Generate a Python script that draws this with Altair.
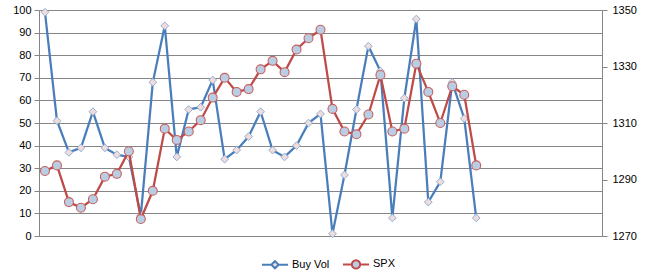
import altair as alt
import pandas as pd

# Values
sessions = list(range(1, 38))
buy_vol = [99, 51, 37, 39, 55, 39, 36, 35, 9, 68, 93, 35, 56, 57, 69,
           34, 38, 44, 55, 38, 35, 40, 50, 54, 1, 27, 56, 84, 73, 8, 61, 96,
           15, 24, 68, 52, 8]
spx = [1293, 1295, 1282, 1280, 1283, 1291, 1292, 1300, 1276, 1286, 1308,
       1304, 1307, 1311, 1319, 1326, 1321, 1322, 1329, 1332, 1328, 1336,
       1340, 1343, 1315, 1307, 1306, 1313, 1327, 1307, 1308, 1331,
       1321, 1310, 1323, 1320, 1295]
series_names = ["Buy Vol", "SPX"]
left_ticks = list(range(0, 101, 10))
right_ticks = [1270, 1290, 1310, 1330, 1350]

df = pd.DataFrame({"session": sessions, "buy": buy_vol, "spx": spx})

BLUE = "#4A7EBB"
BLUE_EDGE = "#8FB0D8"
PINK_FILL = "#F2DCDB"
RED = "#BE4B48"
RED_EDGE = "#C8605D"
LBLUE_FILL = "#B9CDE5"
GRID = "#868686"
FONT = "Liberation Sans"

x_enc = alt.X("session:Q", scale=alt.Scale(domain=[0.5, 47.5], nice=False, zero=False), axis=None)

left_axis = alt.Axis(values=left_ticks, grid=True, gridColor=GRID, domainColor=GRID,
                     tickColor=GRID, tickSize=5, labelPadding=3, title=None,
                     labelFont=FONT, labelFontSize=11, labelColor="#000000")
right_axis = alt.Axis(values=right_ticks, grid=False, orient="right", domainColor=GRID,
                      tickColor=GRID, tickSize=5, labelPadding=5, title=None, format="d",
                      labelFont=FONT, labelFontSize=11, labelColor="#000000")

base = alt.Chart(df)
y_left = alt.Y("buy:Q", scale=alt.Scale(domain=[0, 100], nice=False), axis=left_axis)
y_right = alt.Y("spx:Q", scale=alt.Scale(domain=[1270, 1350], nice=False, zero=False), axis=right_axis)

blue_line = base.mark_line(color=BLUE, strokeWidth=2.25).encode(x=x_enc, y=y_left)
blue_pts = base.mark_point(shape="diamond", filled=True, fill=PINK_FILL, stroke=BLUE_EDGE,
                           strokeWidth=1, size=60, opacity=1).encode(x=x_enc, y=y_left)
red_line = base.mark_line(color=RED, strokeWidth=2.25).encode(x=x_enc, y=y_right)
red_pts = base.mark_point(shape="circle", filled=True, fill=LBLUE_FILL, stroke=RED_EDGE,
                          strokeWidth=1.1, size=80, opacity=1).encode(x=x_enc, y=y_right)

left_layer = alt.layer(blue_line, blue_pts)
right_layer = alt.layer(red_line, red_pts)

# legend-only layer (no data rows) with line+marker symbols
diamond_path = "M-1,0L-0.28,0M0.28,0L1,0M-0.28,0L0,-0.28L0.28,0L0,0.28Z"
circle_path = "M-1,0L-0.32,0M0.32,0L1,0M0.32,0A0.32,0.32,0,1,1,-0.32,0A0.32,0.32,0,1,1,0.32,0Z"
leg = alt.Legend(title=None, orient="none", direction="horizontal", legendX=222, legendY=240,
                 symbolSize=676, symbolStrokeWidth=2, labelFont=FONT, labelFontSize=11,
                 labelColor="#000000", labelOffset=3, columnPadding=9)
legend_layer = base.transform_filter("false").mark_point(filled=True, strokeWidth=2, opacity=1).encode(
    shape=alt.Shape("series:N", scale=alt.Scale(domain=series_names, range=[diamond_path, circle_path]), legend=leg),
    stroke=alt.Stroke("series:N", scale=alt.Scale(domain=series_names, range=[BLUE, RED]), legend=leg),
    fill=alt.Fill("series:N", scale=alt.Scale(domain=series_names, range=[PINK_FILL, LBLUE_FILL]), legend=leg),
)

chart = alt.layer(left_layer, right_layer, legend_layer).resolve_scale(y="independent").properties(
    width=563, height=226,
    autosize=alt.AutoSizeParams(type="none"),
    padding={"left": 39, "top": 10, "right": 49, "bottom": 37},
).configure_view(strokeWidth=0).configure(background="#ffffff")

chart.save("out.html", embed_options={"renderer": "svg", "actions": False})
